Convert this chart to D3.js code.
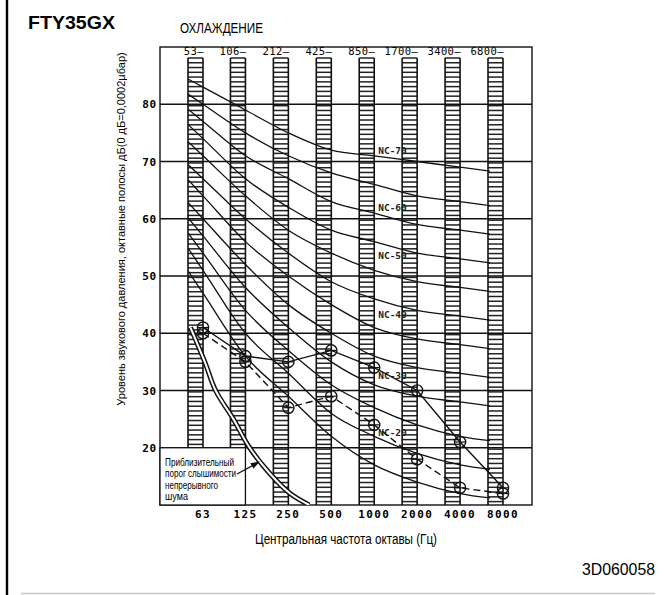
<!DOCTYPE html>
<html>
<head>
<meta charset="utf-8">
<script src="https://cdn.jsdelivr.net/npm/d3@7"></script>
<style>
  html, body { margin: 0; padding: 0; background: #fff; }
  svg { display: block; }
  .sans { font-family: "Liberation Sans Narrow", "Liberation Sans", Arial, sans-serif; }
  .mono { font-family: "DejaVu Sans Mono", "Liberation Mono", monospace; }
</style>
</head>
<body>
<svg id="chart" width="669" height="595"></svg>
<script>
// ---------- data ----------
const bands = [63, 125, 250, 500, 1000, 2000, 4000, 8000];
const bandEdges = ["53", "106", "212", "425", "850", "1700", "3400", "6800"];
const yTicks = [20, 30, 40, 50, 60, 70, 80];

const NC15 = [47, 36, 29, 22, 17, 14, 12, 11];
const NC20 = [51, 40, 33, 26, 22, 19, 17, 16];
const NC25 = [54, 44, 37, 31, 27, 24, 22, 21];
const NC30 = [57, 48, 41, 35, 31, 29, 28, 27];
const NC35 = [60, 52, 45, 40, 36, 34, 33, 32];
const NC40 = [64, 56, 50, 45, 41, 39, 38, 37];
const NC45 = [67, 60, 54, 49, 46, 44, 43, 42];
const NC50 = [71, 64, 58, 54, 51, 49, 48, 47];
const NC55 = [74, 67, 62, 58, 56, 54, 53, 52];
const NC60 = [77, 71, 67, 63, 61, 59, 58, 57];
const NC65 = [80, 75, 71, 68, 66, 64, 63, 62];
const NC70 = [83, 79, 75, 72, 71, 70, 69, 68];

const ncLabels = ["NC-70", "NC-60", "NC-50", "NC-40", "NC-30", "NC-20"];
const ncLabelDb = [72, 62, 53.6, 43.2, 32.7, 22.7];

const coolingSolid = [41, 36, 35, 37, 34, 30, 21, 13];
const coolingDashed = [40, 35, 27, 29, 24, 18, 13, 12];

const thresholdFreq = [50, 63, 75, 100, 130, 180, 250, 340];
const thresholdDb = [41, 35, 30, 25, 20, 15.5, 12, 10];

const legendLines = ["Приблизительный", "порог слышимости", "непрерывного", "шума"];

// ---------- layout ----------
const svg = d3.select("#chart");
const L = 160, R = 532, T = 47, B = 505;
const x = d3.scaleLog().base(2).domain([63, 8000]).range([203, 503]);
const y = d3.scaleLinear().domain([10, 90]).range([B, T]);
const barW = 15, barTop = 58;

// left border & bottom rule
svg.append("line").attr("x1", 7).attr("x2", 7).attr("y1", 0).attr("y2", 595)
  .attr("stroke", "#000").attr("stroke-width", 2.4);
svg.append("line").attr("x1", 21).attr("x2", 655).attr("y1", 593.5).attr("y2", 593.5)
  .attr("stroke", "#c8c8c8").attr("stroke-width", 1.5);

// titles
svg.append("text").attr("class", "sans").attr("x", 28).attr("y", 28.5)
  .attr("font-size", 19).attr("font-weight", "bold")
  .attr("textLength", 87).attr("lengthAdjust", "spacingAndGlyphs").text("FTY35GX");
svg.append("text").attr("class", "sans").attr("x", 180).attr("y", 33.3)
  .attr("font-size", 14.5).attr("textLength", 83).attr("lengthAdjust", "spacingAndGlyphs")
  .text("ОХЛАЖДЕНИЕ");
svg.append("text").attr("class", "sans").attr("x", 582).attr("y", 575)
  .attr("font-size", 17).attr("textLength", 73).attr("lengthAdjust", "spacingAndGlyphs")
  .text("3D060058");

// y axis title (rotated), sized so its natural length spans ~354px
const yTitle = svg.append("g").attr("transform", "translate(125,229) rotate(-90)")
  .append("text").attr("class", "sans").attr("x", 0).attr("y", 0)
  .attr("text-anchor", "middle").attr("font-size", 12)
  .text("Уровень звукового давления, октавные полосы дБ(0 дБ=0,0002µбар)");
const natLen = yTitle.node().getComputedTextLength();
if (natLen > 0) yTitle.attr("font-size", Math.min(13.5, 12 * 354 / natLen));

svg.append("text").attr("class", "sans").attr("x", 255).attr("y", 543.5)
  .attr("font-size", 14).attr("textLength", 182).attr("lengthAdjust", "spacingAndGlyphs")
  .text("Центральная частота октавы (Гц)");

// horizontal grid lines
svg.append("g").selectAll("line").data(yTicks).join("line")
  .attr("x1", L).attr("x2", R).attr("y1", d => y(d)).attr("y2", d => y(d))
  .attr("stroke", "#111").attr("stroke-width", 1.3);

// y tick labels
svg.append("g").selectAll("text").data(yTicks).join("text")
  .attr("class", "mono").attr("x", 157).attr("y", d => y(d) + 4)
  .attr("text-anchor", "end").attr("font-size", 11).attr("letter-spacing", 0.8)
  .attr("font-weight", "bold").text(d => d);

// hatched bars
const barG = svg.append("g");
bands.forEach((f, i) => {
  const x1 = x(f) - barW, x2 = x(f);
  const bottom = i < 2 ? y(20) : B;
  const stripes = d3.range(barTop, bottom, 4.77);
  barG.append("g").selectAll("line").data(stripes).join("line")
    .attr("x1", x1).attr("x2", x2).attr("y1", d => d).attr("y2", d => d)
    .attr("stroke", "#222").attr("stroke-width", 1.5);
  [x1, x2].forEach(xx => barG.append("line")
    .attr("x1", xx).attr("x2", xx).attr("y1", barTop).attr("y2", bottom)
    .attr("stroke", "#111").attr("stroke-width", 1.6));
});

// band edge labels on top
svg.append("g").selectAll("text").data(bands).join("text")
  .attr("class", "mono").attr("x", d => x(d) + 1).attr("y", 55)
  .attr("text-anchor", "end").attr("font-size", 10.5).attr("letter-spacing", 0.4)
  .text((d, i) => bandEdges[i] + "–");

// bottom band labels
svg.append("g").selectAll("text").data(bands).join("text")
  .attr("class", "mono").attr("x", d => x(d)).attr("y", 518)
  .attr("text-anchor", "middle").attr("font-size", 11).attr("letter-spacing", 1.4)
  .attr("font-weight", "bold").text(d => d);

// plot frame
svg.append("rect").attr("x", L).attr("y", T).attr("width", R - L).attr("height", B - T)
  .attr("fill", "none").attr("stroke", "#111").attr("stroke-width", 1.4);

// NC curves
const defs = svg.append("defs");
defs.append("clipPath").attr("id", "ncclip").append("rect")
  .attr("x", x(63) - barW).attr("y", T).attr("width", (x(8000) - barW + 2) - (x(63) - barW)).attr("height", B - T);
defs.append("clipPath").attr("id", "plotclip").append("rect")
  .attr("x", L).attr("y", T).attr("width", R - L).attr("height", B - T);

const ncSets = [NC15, NC20, NC25, NC30, NC35, NC40, NC45, NC50, NC55, NC60, NC65, NC70];
const curveLine = d3.line().curve(d3.curveMonotoneX);
const ncG = svg.append("g").attr("clip-path", "url(#ncclip)");
ncSets.forEach(vals => {
  const pts = bands.map((f, i) => [x(f), y(vals[i])]);
  // extend the first segment leftwards to the edge of the first band bar
  const [p0, p1] = pts;
  const slope = (p1[1] - p0[1]) / (p1[0] - p0[0]);
  const ext = [p0[0] - barW, p0[1] - slope * barW];
  ncG.append("path").attr("d", curveLine([ext, ...pts]))
    .attr("fill", "none").attr("stroke", "#111").attr("stroke-width", 1.3);
});

// NC labels
svg.append("g").selectAll("text").data(ncLabels).join("text")
  .attr("class", "mono").attr("x", x(1000) + 4).attr("y", (d, i) => y(ncLabelDb[i]) + 3.5)
  .attr("font-size", 9.5).attr("font-weight", "bold").attr("fill", "#222")
  .text(d => d);

// legend box (threshold)
svg.append("rect").attr("x", L).attr("y", y(20)).attr("width", x(125) - L).attr("height", B - y(20))
  .attr("fill", "#fff").attr("stroke", "#111").attr("stroke-width", 1.3);
svg.append("g").selectAll("text").data(legendLines).join("text")
  .attr("class", "sans").attr("x", 165).attr("y", (d, i) => 465.5 + i * 11.6)
  .attr("font-size", 11.5)
  .attr("textLength", (d, i) => [69, 71, 53, 23][i]).attr("lengthAdjust", "spacingAndGlyphs")
  .text(d => d);

// threshold of hearing (double line)
const smoothLine = d3.line().curve(d3.curveCatmullRom.alpha(0.5));
const thrPts = thresholdFreq.map((f, i) => [x(f), y(thresholdDb[i])]);
const thrG = svg.append("g").attr("clip-path", "url(#plotclip)");
thrG.append("path").attr("d", smoothLine(thrPts)).attr("transform", "translate(1.8,0)")
  .attr("fill", "none").attr("stroke", "#111").attr("stroke-width", 5);
thrG.append("path").attr("d", smoothLine(thrPts)).attr("transform", "translate(1.8,0)")
  .attr("fill", "none").attr("stroke", "#fff").attr("stroke-width", 2);

// arrow from legend text to threshold line
defs.append("marker").attr("id", "arrow").attr("viewBox", "0 0 10 10")
  .attr("refX", 9).attr("refY", 5).attr("markerWidth", 7).attr("markerHeight", 7)
  .attr("orient", "auto").append("path").attr("d", "M0,1.5 L10,5 L0,8.5 Z").attr("fill", "#111");
svg.append("line").attr("x1", 237).attr("y1", 474).attr("x2", 259).attr("y2", 462)
  .attr("stroke", "#111").attr("stroke-width", 1.3).attr("marker-end", "url(#arrow)");

// measured series
const straight = d3.line();
function series(vals, dash) {
  const pts = bands.map((f, i) => [x(f), y(vals[i])]);
  svg.append("path").attr("d", straight(pts)).attr("fill", "none")
    .attr("stroke", "#111").attr("stroke-width", 1.4)
    .attr("stroke-dasharray", dash);
  const g = svg.append("g");
  g.selectAll("circle").data(pts).join("circle")
    .attr("cx", d => d[0]).attr("cy", d => d[1]).attr("r", 5.6)
    .attr("fill", "none").attr("stroke", "#111").attr("stroke-width", 1.4);
  g.selectAll("line").data(pts).join("line")
    .attr("x1", d => d[0] - 5).attr("x2", d => d[0] + 5)
    .attr("y1", d => d[1]).attr("y2", d => d[1])
    .attr("stroke", "#111").attr("stroke-width", 1.2);
}
series(coolingSolid, null);
series(coolingDashed, "7,4");
</script>
</body>
</html>
